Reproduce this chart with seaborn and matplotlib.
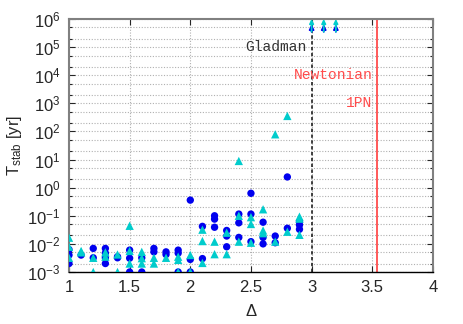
import numpy as np
import pandas as pd
import seaborn as sns
import matplotlib
matplotlib.use("Agg")
import matplotlib.pyplot as plt
from matplotlib.ticker import LogLocator, NullFormatter, MultipleLocator

# stability times (yr), blue circles
delta_blue = [1.0, 1.0, 1.0, 1.1, 1.2, 1.2, 1.3, 1.3, 1.3, 1.3, 1.4, 1.4,
              1.5, 1.5, 1.5, 1.6, 1.6, 1.7, 1.7, 1.8, 1.8, 1.9, 1.9, 1.9,
              2.0, 2.0, 2.0, 2.1, 2.1, 2.2, 2.2, 2.2, 2.3, 2.3, 2.3,
              2.4, 2.4, 2.4, 2.5, 2.5, 2.5, 2.6, 2.6, 2.6, 2.7, 2.7,
              2.8, 2.8, 2.9, 2.9, 2.9]
t_blue = [6.3e-3, 4.0e-3, 2.0e-3, 4.0e-3, 6.9e-3, 3.2e-3, 6.9e-3, 4.7e-3, 3.2e-3, 2.0e-3, 3.5e-3, 3.2e-3,
          6.0e-3, 3.1e-3, 1.0e-3, 3.2e-3, 1.0e-3, 6.9e-3, 5.2e-3, 5.2e-3, 4.2e-3, 6.0e-3, 4.7e-3, 1.0e-3,
          0.36, 2.8e-3, 1.0e-3, 0.042, 3.0e-3, 0.10, 0.076, 0.039, 0.030, 0.019, 7.9e-3,
          0.115, 0.056, 0.017, 0.63, 0.115, 0.012, 0.059, 0.017, 0.010, 0.019, 0.011,
          2.4, 0.036, 0.062, 0.047, 0.033]

# cyan triangles
delta_cyan = [1.0, 1.0, 1.0, 1.1, 1.1, 1.2, 1.2, 1.3, 1.3, 1.4, 1.4,
              1.5, 1.5, 1.5, 1.6, 1.6, 1.6, 1.7, 1.7, 1.8, 1.9, 1.9, 1.9,
              2.0, 2.0, 2.1, 2.1, 2.1, 2.2, 2.2, 2.3, 2.3,
              2.4, 2.4, 2.4, 2.5, 2.5, 2.5, 2.6, 2.6, 2.6, 2.7, 2.7,
              2.8, 2.8, 2.9, 2.9, 2.9]
t_cyan = [0.0166, 7.9e-3, 3.2e-3, 5.6e-3, 5.0e-3, 3.2e-3, 1.0e-3, 5.0e-3, 3.5e-3, 4.2e-3, 1.0e-3,
          0.044, 5.6e-3, 2.0e-3, 5.2e-3, 3.1e-3, 2.0e-3, 3.2e-3, 2.0e-3, 3.2e-3, 3.5e-3, 2.7e-3, 1.0e-3,
          4.0e-3, 1.0e-3, 0.032, 0.0126, 2.1e-3, 0.012, 4.3e-3, 0.025, 4.3e-3,
          8.9, 0.10, 0.012, 0.089, 0.051, 0.011, 0.17, 0.030, 0.024, 79, 0.012,
          355, 0.027, 0.093, 0.079, 0.021]

# stable beyond the integration time -> lower limits
delta_stable = [3.0, 3.1, 3.2]
t_stable_from = 3.5e5

delta_gladman = 3.0
delta_1pn = 3.54

blue = "#0000ee"
cyan = "#00cccc"
red = "#ff4c4c"

df_blue = pd.DataFrame({"delta": delta_blue, "T": t_blue})
df_cyan = pd.DataFrame({"delta": delta_cyan, "T": t_cyan})

sns.set_style("ticks")
plt.rcParams["font.family"] = ["Liberation Sans", "DejaVu Sans"]
plt.rcParams["mathtext.default"] = "regular"

fig = plt.figure(figsize=(4.63, 3.24), dpi=100)
ax = fig.add_axes([0.149, 0.1605, 0.786, 0.781])

sns.scatterplot(data=df_blue, x="delta", y="T", color=blue, marker="o",
                s=28, edgecolor="none", ax=ax, zorder=3)
sns.scatterplot(data=df_cyan, x="delta", y="T", color=cyan, marker="^",
                s=36, edgecolor="none", ax=ax, zorder=3)

ax.set_yscale("log")
ax.set_xlim(1, 4)
ax.set_ylim(1e-3, 1e6)

for x in delta_stable:
    ax.annotate("", xy=(x, 6.5e5), xytext=(x, t_stable_from),
                arrowprops=dict(arrowstyle="-|>", color=blue, lw=1.3, mutation_scale=7,
                                shrinkA=0, shrinkB=0),
                zorder=4, annotation_clip=False)
    ax.annotate("", xy=(x, 1e6), xytext=(x, t_stable_from),
                arrowprops=dict(arrowstyle="-|>", color=cyan, lw=1.3, mutation_scale=6,
                                shrinkA=0, shrinkB=0),
                zorder=5, annotation_clip=False)

ax.axvline(delta_gladman, color="#222222", ls=(0, (2, 1.5)), lw=1.2, zorder=2)
ax.axvline(delta_1pn, color=red, lw=1.3, zorder=2)

mono = ["Liberation Mono", "DejaVu Sans Mono"]
ax.text(2.96, 1e5, "Gladman", ha="right", va="center", family=mono, size=10.5, color="#333333")
ax.text(3.50, 1e4, "Newtonian", ha="right", va="center", family=mono, size=10.5, color=red)
ax.text(3.50, 1e3, "1PN", ha="right", va="center", family=mono, size=10.5, color=red)

ax.xaxis.set_major_locator(MultipleLocator(0.5))
ax.xaxis.set_major_formatter(matplotlib.ticker.FuncFormatter(lambda v, p: f"{v:g}"))
ax.yaxis.set_major_locator(LogLocator(base=10, numticks=20))
ax.yaxis.set_minor_locator(LogLocator(base=10, subs=(2.0, 5.0), numticks=20))
ax.yaxis.set_minor_formatter(NullFormatter())

ax.grid(True, which="major", axis="x", color="#b0b0b0", ls=(0, (1, 1.5)), lw=0.8)
ax.grid(True, which="both", axis="y", color="#b0b0b0", ls=(0, (1, 1.5)), lw=0.8)

ax.tick_params(which="major", direction="in", length=4, top=True, right=True,
               labelsize=12, width=0.8, pad=6)
ax.tick_params(which="minor", direction="in", length=2.5, top=False, right=True, width=0.8)

for side in ["left", "right", "top"]:
    ax.spines[side].set_color("#808080")
    ax.spines[side].set_linewidth(1.5)
ax.spines["bottom"].set_color("black")
ax.spines["bottom"].set_linewidth(1.0)

ax.set_xlabel("Δ", fontsize=12, labelpad=6)
ax.set_ylabel("T$_{stab}$ [yr]", fontsize=12, labelpad=2)

fig.savefig("out.png", dpi=100)
